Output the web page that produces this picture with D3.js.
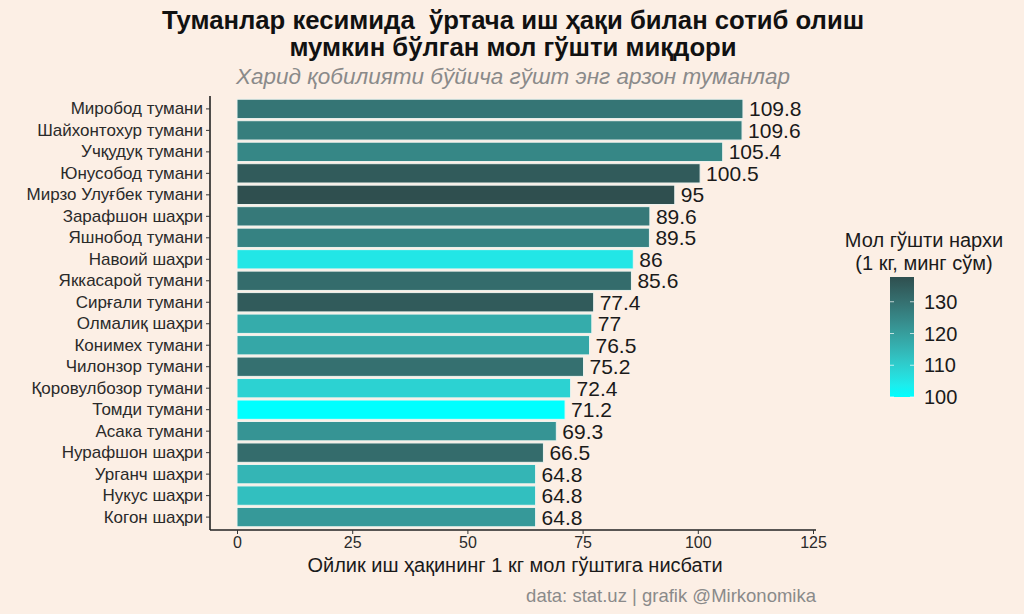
<!DOCTYPE html>
<html>
<head>
<meta charset="utf-8">
<script src="https://cdn.jsdelivr.net/npm/d3@7"></script>
<style>
  body { margin: 0; background: #fcefe5; }
  svg { font-family: "Liberation Sans", Arial, sans-serif; }
</style>
</head>
<body>
<script>
// districts, top to bottom
let districts = ["Миробод тумани", "Шайхонтохур тумани", "Учқудуқ тумани", "Юнусобод тумани",
  "Мирзо Улуғбек тумани", "Зарафшон шаҳри", "Яшнобод тумани", "Навоий шаҳри", "Яккасарой тумани",
  "Сирғали тумани", "Олмалиқ шаҳри", "Конимех тумани", "Чилонзор тумани", "Қоровулбозор тумани",
  "Томди тумани", "Асака тумани", "Нурафшон шаҳри", "Урганч шаҳри", "Нукус шаҳри", "Когон шаҳри"];
let ratio = [109.8, 109.6, 105.4, 100.5, 95, 89.6, 89.5, 86, 85.6, 77.4, 77, 76.5, 75.2, 72.4, 71.2, 69.3, 66.5, 64.8, 64.8, 64.8];
// beef price, 1 kg, thousand sum
let price = [129, 127, 125, 135, 137.8, 128, 126, 105, 131, 135, 117, 118, 130, 109, 100, 122, 131, 115, 113, 121];

let xTicks = [0, 25, 50, 75, 100, 125];
let legendTicks = [100, 110, 120, 130];

let w = 1024, h = 614;
let pLeft = 210, pRight = 816, pTop = 96, pBottom = 530;

let svg = d3.select("body").append("svg").attr("width", w).attr("height", h);
svg.append("rect").attr("width", w).attr("height", h).attr("fill", "#fcefe5");

let x = d3.scaleLinear().domain([-5.86, 125.65]).range([pLeft, pRight]);
let y = d3.scaleBand().domain(districts).range([pTop, pBottom]).paddingInner(0.1).paddingOuter(0.15);
let color = d3.scaleLinear().domain([100, 137.8]).range(["#00ffff", "#2f4f4f"]).interpolate(d3.interpolateLab);

let rows = districts.map((d, i) => ({ name: d, v: ratio[i], p: price[i] }));

// bars
svg.selectAll("rect.bar").data(rows).enter().append("rect")
  .attr("class", "bar")
  .attr("x", x(0))
  .attr("y", d => y(d.name))
  .attr("width", d => x(d.v) - x(0))
  .attr("height", y.bandwidth())
  .attr("fill", d => color(d.p))
  .attr("stroke", "#eef3ef")
  .attr("stroke-width", 1);

// value labels
svg.selectAll("text.val").data(rows).enter().append("text")
  .attr("class", "val")
  .attr("x", d => x(d.v) + 6)
  .attr("y", d => y(d.name) + y.bandwidth() / 2)
  .attr("dy", "0.36em")
  .attr("font-size", 21)
  .attr("fill", "#1a1a1a")
  .text(d => String(d.v));

// axes
let xAxis = d3.axisBottom(x).tickValues(xTicks).tickSize(4).tickPadding(3);
let yAxis = d3.axisLeft(y).tickSize(4).tickPadding(3);

let gx = svg.append("g").attr("transform", "translate(0," + pBottom + ")").call(xAxis);
let gy = svg.append("g").attr("transform", "translate(" + pLeft + ",0)").call(yAxis);
[gx, gy].forEach(g => {
  g.select(".domain").attr("stroke", "#222").attr("stroke-width", 1.6);
  g.selectAll(".tick line").attr("stroke", "#333");
  g.selectAll(".tick text").attr("fill", "#2a2a2a").attr("font-family", "Liberation Sans, Arial, sans-serif");
});
gx.selectAll(".tick text").attr("font-size", 16);
gy.selectAll(".tick text").attr("font-size", 17);
gx.select(".domain").attr("d", "M" + pLeft + ",0H" + pRight);
gy.select(".domain").attr("d", "M0," + pTop + "V" + pBottom);

// titles
svg.append("text").attr("x", 513).attr("y", 29).attr("text-anchor", "middle")
  .style("white-space", "pre")
  .attr("font-size", 25.7).attr("font-weight", "bold").attr("fill", "#111")
  .text("Туманлар кесимида  ўртача иш ҳақи билан сотиб олиш");
svg.append("text").attr("x", 513).attr("y", 56).attr("text-anchor", "middle")
  .attr("font-size", 25.7).attr("font-weight", "bold").attr("fill", "#111")
  .text("мумкин бўлган мол гўшти миқдори");
svg.append("text").attr("x", 513).attr("y", 84).attr("text-anchor", "middle")
  .attr("font-size", 22.5).attr("font-style", "italic").attr("fill", "#8a8a8a")
  .text("Харид қобилияти бўйича гўшт энг арзон туманлар");

svg.append("text").attr("x", 515).attr("y", 572).attr("text-anchor", "middle")
  .attr("font-size", 20).attr("fill", "#1a1a1a")
  .text("Ойлик иш ҳақининг 1 кг мол гўштига нисбати");

svg.append("text").attr("x", 816).attr("y", 602).attr("text-anchor", "end")
  .attr("font-size", 18.5).attr("fill", "#8a8a8a")
  .text("data: stat.uz | grafik @Mirkonomika");

// legend
let lx = 890, lw = 24;
let ly = d3.scaleLinear().domain([100, 137.8]).range([397, 277]);
let defs = svg.append("defs");
let grad = defs.append("linearGradient").attr("id", "lg").attr("x1", 0).attr("y1", 1).attr("x2", 0).attr("y2", 0);
d3.range(0, 1.0001, 0.1).forEach(t => {
  grad.append("stop").attr("offset", t).attr("stop-color", color(100 + t * 37.8));
});
svg.append("rect").attr("x", lx).attr("y", ly(137.8)).attr("width", lw).attr("height", ly(100) - ly(137.8))
  .attr("fill", "url(#lg)");
legendTicks.forEach(t => {
  svg.append("line").attr("x1", lx).attr("x2", lx + 4).attr("y1", ly(t)).attr("y2", ly(t)).attr("stroke", "#fff").attr("stroke-opacity", 0.7);
  svg.append("line").attr("x1", lx + lw - 4).attr("x2", lx + lw).attr("y1", ly(t)).attr("y2", ly(t)).attr("stroke", "#fff").attr("stroke-opacity", 0.7);
  svg.append("text").attr("x", lx + lw + 10).attr("y", ly(t)).attr("dy", "0.36em")
    .attr("font-size", 20).attr("fill", "#1a1a1a").text(t);
});
svg.append("text").attr("x", 924).attr("y", 247).attr("text-anchor", "middle")
  .attr("font-size", 20).attr("fill", "#1a1a1a").text("Мол гўшти нархи");
svg.append("text").attr("x", 924).attr("y", 270).attr("text-anchor", "middle")
  .attr("font-size", 20).attr("fill", "#1a1a1a").text("(1 кг, минг сўм)");
</script>
</body>
</html>
